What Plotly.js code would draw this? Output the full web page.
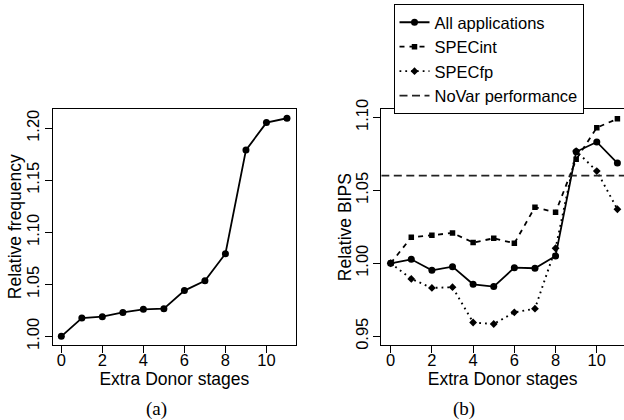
<!DOCTYPE html>
<html>
<head>
<meta charset="utf-8">
<script src="https://cdn.plot.ly/plotly-3.0.1.min.js"></script>
<style>html,body{margin:0;padding:0;background:#fff;}#chart{width:624px;height:420px;}</style>
</head>
<body>
<div id="chart"></div>
<script>
// ---- data ----
var stages = [0, 1, 2, 3, 4, 5, 6, 7, 8, 9, 10, 11];
var relFreq = [1.000, 1.0176, 1.0189, 1.023, 1.026, 1.0266, 1.044, 1.0534, 1.0794, 1.179, 1.2054, 1.2096];
var allApps = [1.000, 1.0027, 0.9952, 0.9977, 0.9856, 0.984, 0.997, 0.9966, 1.005, 1.0764, 1.0831, 1.0687];
var specInt = [1.000, 1.0178, 1.0192, 1.0208, 1.0142, 1.0171, 1.0137, 1.0384, 1.0349, 1.0712, 1.0929, 1.0990];
var specFp = [1.000, 0.9893, 0.9831, 0.9836, 0.9594, 0.9584, 0.9664, 0.9689, 1.0103, 1.0769, 1.0632, 1.037];
var noVar = 1.060;
var seriesNames = ["All applications", "SPECint", "SPECfp", "NoVar performance"];
var xTicks = [0, 2, 4, 6, 8, 10];
var yTicksA = [1.00, 1.05, 1.10, 1.15, 1.20];
var yTicksB = [0.95, 1.00, 1.05, 1.10];
var xTitle = "Extra Donor stages";
var yTitleA = "Relative frequency";
var yTitleB = "Relative BIPS";
var captions = ["(a)", "(b)"];

var FONT = "Liberation Sans, Arial, Helvetica, sans-serif";
var FS = 16.5;
var TFS = 17.5;
var xRangeA = [-0.42, 11.44];
var xRangeB = [-0.455, 11.32];

var traces = [
  {x: stages, y: relFreq, xaxis: 'x', yaxis: 'y', mode: 'lines+markers', showlegend: false,
   line: {color: '#000', width: 1.8}, marker: {symbol: 'circle', size: 7, color: '#000'}},
  {x: stages, y: allApps, xaxis: 'x2', yaxis: 'y2', mode: 'lines+markers', name: seriesNames[0],
   line: {color: '#000', width: 1.8}, marker: {symbol: 'circle', size: 7, color: '#000'}},
  {x: stages, y: specInt, xaxis: 'x2', yaxis: 'y2', mode: 'lines+markers', name: seriesNames[1],
   line: {color: '#000', width: 1.8, dash: '5px,5px'}, marker: {symbol: 'square', size: 5.5, color: '#000'}},
  {x: stages, y: specFp, xaxis: 'x2', yaxis: 'y2', mode: 'lines+markers', name: seriesNames[2],
   line: {color: '#000', width: 1.9, dash: '1.8px,4px'}, marker: {symbol: 'diamond', size: 6, color: '#000'}},
  {x: xRangeB, y: [noVar, noVar], xaxis: 'x2', yaxis: 'y2', mode: 'lines', name: seriesNames[3],
   line: {color: '#222', width: 1.8, dash: '8px,4.5px'}}
];

function fmt(v){ return v.toFixed(2); }

var axBase = {
  showline: true, mirror: true, linecolor: '#000', linewidth: 1,
  ticks: 'outside', ticklen: 7, tickwidth: 1, tickcolor: '#000',
  showgrid: false, zeroline: false,
  tickfont: {family: FONT, size: FS, color: '#000'}
};

function ax(extra){ return Object.assign({}, axBase, extra); }

var yDom = [1 - 345/420, 1 - 109.3/420];
var titleFont = {family: FONT, size: TFS, color: '#000'};
var capFont = {family: 'Liberation Serif, Times New Roman, serif', size: 19, color: '#000'};
var yMid = (yDom[0] + yDom[1]) / 2;

var layout = {
  width: 624, height: 420,
  margin: {l: 0, r: 0, t: 0, b: 0},
  paper_bgcolor: '#fff', plot_bgcolor: '#fff',
  font: {family: FONT, size: FS, color: '#000'},
  xaxis: ax({domain: [52.7/624, 296/624], range: xRangeA, anchor: 'y',
    tickmode: 'array', tickvals: xTicks, ticktext: xTicks.map(String), ticklabelstandoff: -7,
    title: {text: xTitle, font: titleFont, standoff: 0}}),
  yaxis: ax({domain: yDom, range: [0.9917, 1.2182], anchor: 'x',
    tickmode: 'array', tickvals: yTicksA, ticktext: yTicksA.map(fmt), tickangle: -90, ticklabelstandoff: -1}),
  xaxis2: ax({domain: [381.3/624, 1], range: xRangeB, anchor: 'y2',
    tickmode: 'array', tickvals: xTicks, ticktext: xTicks.map(String), ticklabelstandoff: -7,
    title: {text: xTitle, font: titleFont, standoff: 0}}),
  yaxis2: ax({domain: yDom, range: [0.944, 1.1055], anchor: 'x2',
    tickmode: 'array', tickvals: yTicksB, ticktext: yTicksB.map(fmt), tickangle: -90, ticklabelstandoff: -1}),
  showlegend: true,
  legend: {x: 393.5/624, y: 1 - 4/420, xanchor: 'left', yanchor: 'top',
    bordercolor: '#000', borderwidth: 1, bgcolor: '#fff',
    font: {family: FONT, size: FS, color: '#000'}, tracegroupgap: 0},
  annotations: [
    {text: yTitleA, textangle: -90, xref: 'paper', yref: 'paper', x: 15/624, y: yMid,
     xanchor: 'center', yanchor: 'middle', showarrow: false, font: titleFont},
    {text: yTitleB, textangle: -90, xref: 'paper', yref: 'paper', x: 345/624, y: yMid,
     xanchor: 'center', yanchor: 'middle', showarrow: false, font: titleFont},
    {text: captions[0], xref: 'paper', yref: 'paper', x: 144/624, y: 0, yanchor: 'bottom', yshift: -2, showarrow: false,
     font: capFont},
    {text: captions[1], xref: 'paper', yref: 'paper', x: 477/624, y: 0, yanchor: 'bottom', yshift: -2, showarrow: false,
     font: capFont}
  ]
};

Plotly.newPlot('chart', traces, layout, {displayModeBar: false, staticPlot: true});
</script>
</body>
</html>
